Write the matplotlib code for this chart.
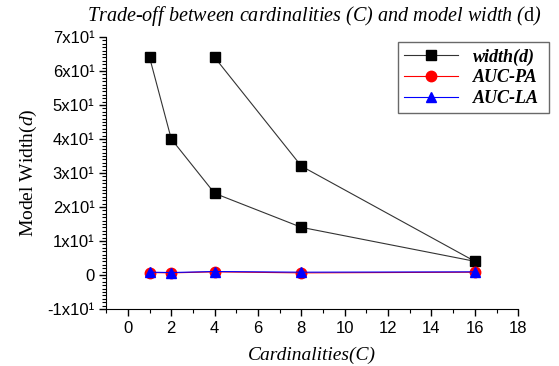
import matplotlib
matplotlib.use("Agg")
import matplotlib.pyplot as plt
from matplotlib.ticker import MultipleLocator, FuncFormatter

# data
card_w = [1, 2, 4, 8, 16, 8, 4]
width_d = [64, 40, 24, 14, 4, 32, 64]
card = [1, 2, 4, 8, 16]
auc_pa = [0.7, 0.6, 0.9, 0.6, 0.8]
auc_la = [0.8, 0.7, 1.0, 0.8, 0.9]

plt.rcParams['mathtext.fontset'] = 'custom'
plt.rcParams['mathtext.rm'] = 'Liberation Serif'
plt.rcParams['mathtext.it'] = 'Liberation Serif:italic'

fig = plt.figure(figsize=(5.59, 3.66), dpi=100)
ax = fig.add_axes([0.19, 0.156, 0.737, 0.743])

ax.plot(card_w, width_d, color='#333333', lw=0.8, marker='s', ms=6.5,
        mfc='black', mec='black', label='width(d)')
ax.plot(card, auc_pa, color='red', lw=0.8, marker='o', ms=7.5,
        mec='red', label='AUC-PA')
ax.plot(card, auc_la, color='blue', lw=0.8, marker='^', ms=7.5,
        mec='blue', label='AUC-LA')

ax.set_xlim(-1, 18)
ax.set_ylim(-10, 70)
ax.spines['top'].set_visible(False)
ax.spines['right'].set_visible(False)
ax.xaxis.set_major_locator(MultipleLocator(2))
ax.xaxis.set_minor_locator(MultipleLocator(1))
ax.yaxis.set_major_locator(MultipleLocator(10))
ax.yaxis.set_minor_locator(MultipleLocator(1))
ax.tick_params(which='major', direction='out', length=5, width=1)
ax.tick_params(which='minor', direction='out', length=3, width=0.8)


def yfmt(v, pos):
    n = int(round(v / 10))
    if n == 0:
        return '0'
    return '%dx10\u00b9' % n


ax.yaxis.set_major_formatter(FuncFormatter(yfmt))
ax.tick_params(labelsize=12)
for lab in ax.get_xticklabels() + ax.get_yticklabels():
    lab.set_family('Liberation Sans')

ax.set_xlabel('Cardinalities(C)', family='Liberation Serif', style='italic',
              fontsize=14, labelpad=8)
ax.set_ylabel('Model Width$\\mathit{(d)}$', family='Liberation Serif',
              fontsize=14, labelpad=6)
fig.text(0.563, 0.955, 'Trade-off between cardinalities (C) and model width ($\\mathrm{d}$)',
         family='Liberation Serif', style='italic', fontsize=14.5,
         ha='center', va='center')

leg = ax.legend(loc='upper left', bbox_to_anchor=(0.712, 0.702, 0.27, 0.183),
                bbox_transform=fig.transFigure, mode='expand',
                prop={'family': 'Liberation Serif', 'style': 'italic',
                      'weight': 'bold', 'size': 13},
                frameon=True, fancybox=False, borderaxespad=0,
                handlelength=3.0, labelspacing=0.2, borderpad=0.35)
leg.get_frame().set_edgecolor('#444444')
leg.get_frame().set_linewidth(1.0)

fig.savefig('out.png', dpi=100)
